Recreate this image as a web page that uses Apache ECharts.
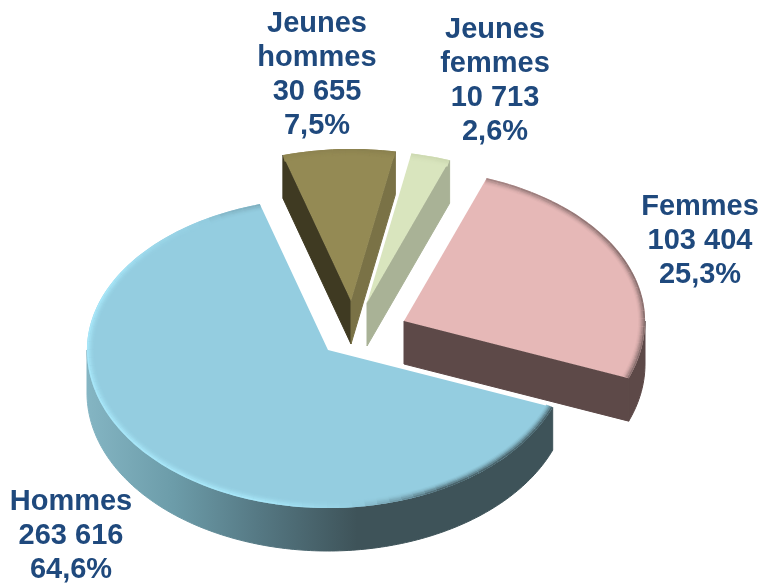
<!DOCTYPE html>
<html>
<head>
<meta charset="utf-8">
<style>
  html, body { margin: 0; padding: 0; background: #fff; }
  #main { width: 764px; height: 584px; }
</style>
<script src="https://cdn.jsdelivr.net/npm/echarts@6/dist/echarts.min.js"></script>
</head>
<body>
<div id="main"></div>
<script>
// data, clockwise from the right hand edge of "Hommes"
const names = ['Hommes', 'Jeunes\nhommes', 'Jeunes\nfemmes', 'Femmes']
const values = [263616, 30655, 10713, 103404]

// layout of each slice: apex of the top face and centre of the label
const apexes = [[328, 350], [351, 301], [367, 303], [404, 321]]
const labelPos = [[71, 536], [317, 75], [495, 81], [700, 241]]

// colours
const topColors = ['#94cde0', '#948a54', '#d9e5be', '#e6b8b7']
const startWall = ['#3e5359', '#3f3a22', '#a9b296', '#5d4948']
const endWall = ['#3e5359', '#7a7246', '#a9b296', '#5d4948']
const lightRim = ['#aaeafc', '#a89e68', '#e6f0cc', '#f6d4d3']
const darkRim = ['#3e5359', '#80774a', '#c4d0a8', '#7a6463']

const rx = 241
const ryUp = 152
const ryDown = 158
const depth = 43
const startAngle = 21.2
const total = values.reduce((a, b) => a + b, 0)

function point(apex, deg, inset, dy) {
  const r = (deg * Math.PI) / 180
  const s = Math.sin(r)
  return [
    apex[0] + (rx - inset) * Math.cos(r),
    apex[1] + ((s > 0 ? ryDown : ryUp) - inset) * s + (dy || 0)
  ]
}

function hexMix(a, b, t) {
  const pa = parseInt(a.slice(1), 16)
  const pb = parseInt(b.slice(1), 16)
  let out = '#'
  for (const sh of [16, 8, 0]) {
    const ca = (pa >> sh) & 255
    const cb = (pb >> sh) & 255
    out += Math.round(ca + (cb - ca) * t).toString(16).padStart(2, '0')
  }
  return out
}

// -1 dark rim, +1 light rim, depending where the edge faces
function rimShade(deg) {
  const d = ((deg % 360) + 360) % 360
  if (d < 62) return -1
  if (d < 105) return -1 + (2 * (d - 62)) / 43
  if (d < 205) return 1
  if (d < 245) return 1 - (1.2 * (d - 205)) / 40
  if (d < 300) return -0.2 - (0.6 * (d - 245)) / 55
  if (d < 340) return -0.8 - (0.2 * (d - 300)) / 40
  return -1
}

function formatValue(v) {
  return String(v).replace(/\B(?=(\d{3})+$)/g, ' ')
}

function percentText(v) {
  return ((v / total) * 100).toFixed(1).replace('.', ',') + '%'
}

function flat(points, color) {
  return {
    type: 'polygon',
    shape: { points: points },
    style: { fill: color, stroke: color, lineWidth: 1 }
  }
}

function renderSlice(params, api) {
  const i = params.dataIndex
  const value = api.value(0)
  const apex = apexes[i]
  let a0 = startAngle
  for (let k = 0; k < i; k++) a0 += (values[k] / total) * 360
  const a1 = a0 + (value / total) * 360
  const children = []

  // flat walls, only the ones that face the viewer
  if (Math.cos((a0 * Math.PI) / 180) < 0) {
    const p = point(apex, a0, 0)
    children.push(flat([p, apex, [apex[0], apex[1] + depth], [p[0], p[1] + depth]], startWall[i]))
  }
  if (Math.cos((a1 * Math.PI) / 180) > 0) {
    const p = point(apex, a1, 0)
    children.push(flat([p, apex, [apex[0], apex[1] + depth], [p[0], p[1] + depth]], endWall[i]))
  }

  // outer wall, the part of the arc in the front half
  const turn = a1 > 360 ? 360 : 0
  const lo = Math.max(a0, turn)
  const hi = Math.min(a1, turn + 180)
  if (hi > lo) {
    const wallPts = []
    const wallBottom = []
    for (let a = lo; a < hi; a += 1) {
      wallPts.push(point(apex, a, 0))
      wallBottom.unshift(point(apex, a, 0, depth))
    }
    wallPts.push(point(apex, hi, 0))
    wallBottom.unshift(point(apex, hi, 0, depth))
    const fill = i === 0
      ? new echarts.graphic.LinearGradient(87, 0, 357, 0, [
          { offset: 0, color: '#84b5c3' },
          { offset: 0.32, color: '#6c9ca9' },
          { offset: 0.64, color: '#557883' },
          { offset: 1, color: '#3e5359' }
        ], true)
      : endWall[i]
    children.push(flat(wallPts.concat(wallBottom), fill))
  }

  // top face
  const face = [apex]
  for (let a = a0; a < a1; a += 1) face.push(point(apex, a, 0))
  face.push(point(apex, a1, 0))
  children.push({
    type: 'polygon',
    shape: { points: face },
    style: { fill: topColors[i] }
  })

  // soft bevel along the arc, drawn from the inside outwards
  const rimWeights = [0.06, 0.16, 0.32, 0.55, 0.85]
  const rimInset = [6, 4.8, 3.6, 2.4, 0.8]
  const step = 3
  rimWeights.forEach((w, k) => {
    for (let a = a0; a < a1; a += step) {
      const b = Math.min(a + step, a1)
      const shade = rimShade((a + b) / 2)
      const target = shade > 0 ? lightRim[i] : darkRim[i]
      children.push({
        type: 'polyline',
        shape: { points: [point(apex, a, rimInset[k]), point(apex, (a + b) / 2, rimInset[k]), point(apex, b, rimInset[k])] },
        style: {
          fill: null,
          stroke: hexMix(topColors[i], target, w * Math.abs(shade)),
          lineWidth: 1.8
        }
      })
    }
  })

  // label
  children.push({
    type: 'text',
    style: {
      x: labelPos[i][0],
      y: labelPos[i][1],
      text: names[i] + '\n' + formatValue(value) + '\n' + percentText(value),
      fill: '#1f497d',
      font: 'bold 29px "Liberation Sans", Arial, sans-serif',
      lineHeight: 34,
      align: 'center',
      verticalAlign: 'middle'
    }
  })

  return { type: 'group', children: children }
}

const myChart = echarts.init(document.getElementById('main'), null, { renderer: 'canvas' })
const option = {
  backgroundColor: '#ffffff',
  animation: false,
  series: [
    {
      type: 'custom',
      coordinateSystem: 'none',
      silent: true,
      renderItem: renderSlice,
      data: values.map(function (v, i) {
        return { name: names[i], value: [v] }
      })
    }
  ]
}
myChart.setOption(option)
</script>
</body>
</html>
